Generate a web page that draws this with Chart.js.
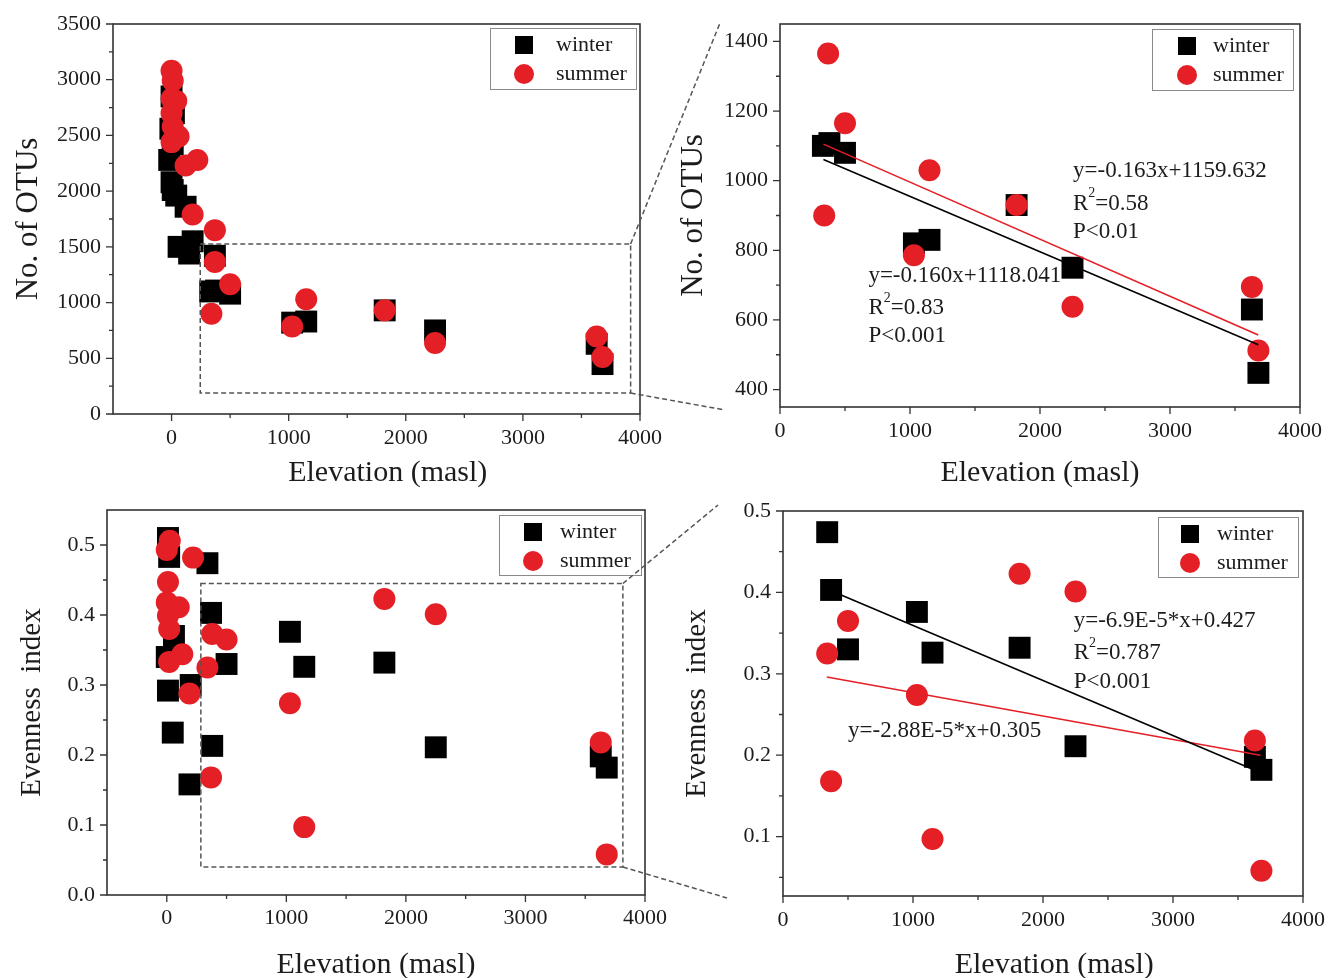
<!DOCTYPE html>
<html>
<head>
<meta charset="utf-8">
<script src="https://cdn.jsdelivr.net/npm/chart.js@4.4.1/dist/chart.umd.min.js"></script>
<style>
  body { margin: 0; background: #fff; }
  #wrap { position: relative; width: 1328px; height: 978px; overflow: hidden; }
  #wrap canvas { position: absolute; }
</style>
</head>
<body>
<div id="wrap">
  <canvas id="otuAll" width="690" height="490" style="left:0;top:0;width:690px;height:490px"></canvas>
  <canvas id="otuZoom" width="663" height="490" style="left:665px;top:0;width:663px;height:490px"></canvas>
  <canvas id="evenAll" width="690" height="488" style="left:0;top:490px;width:690px;height:488px"></canvas>
  <canvas id="evenZoom" width="663" height="488" style="left:665px;top:490px;width:663px;height:488px"></canvas>
  <canvas id="links" width="1328" height="978" style="left:0;top:0;width:1328px;height:978px;pointer-events:none"></canvas>
</div>
<script>
// tick labels
const elevTicks = [0, 1000, 2000, 3000, 4000];
const otuTicks = [0, 500, 1000, 1500, 2000, 2500, 3000, 3500];
const otuZoomTicks = [400, 600, 800, 1000, 1200, 1400];
const evenTicks = [0, 0.1, 0.2, 0.3, 0.4, 0.5];
const evenZoomTicks = [0.1, 0.2, 0.3, 0.4, 0.5];

// No. of OTUs - lowland sites (full range panel only)
const otuWinterLowX = [0, 20, -10, 10, -20, 0, 10, 40, 120, 60, 180, 150, 370];
const otuWinterLowY = [2850, 2700, 2560, 2420, 2280, 2080, 2010, 1960, 1860, 1500, 1550, 1440, 1420];
const otuSummerLowX = [0, 10, 0, 40, 0, 10, 60, 0, 120, 220, 180, 370];
const otuSummerLowY = [3080, 2990, 2830, 2810, 2700, 2580, 2490, 2440, 2230, 2280, 1790, 1650];
// No. of OTUs - sites shown in both panels
const otuWinterHighX = [330, 380, 500, 1030, 1150, 1820, 2250, 3630, 3680];
const otuWinterHighY = [1100, 1108, 1080, 820, 830, 930, 750, 630, 448];
const otuSummerHighX = [370, 500, 1150, 340, 1820, 1030, 2250, 3630, 3680];
const otuSummerHighY = [1365, 1165, 1030, 900, 930, 786, 638, 695, 512];
// fitted lines (end points)
const otuWinterFitX = [334, 3679];
const otuWinterFitY = [1061, 529];
const otuSummerFitX = [334, 3679];
const otuSummerFitY = [1105, 557];

// Evenness index - lowland sites
const evenWinterLowX = [10, 20, 60, 0, 10, 200, 50, 380, 190];
const evenWinterLowY = [0.51, 0.483, 0.37, 0.34, 0.292, 0.30, 0.232, 0.213, 0.158];
const evenSummerLowX = [25, 0, 220, 10, 0, 100, 10, 20, 380, 130, 20, 190];
const evenSummerLowY = [0.506, 0.493, 0.482, 0.447, 0.418, 0.411, 0.399, 0.38, 0.373, 0.344, 0.333, 0.288];
// Evenness index - sites shown in both panels
const evenWinterHighX = [340, 370, 500, 1030, 1150, 1820, 2250, 3630, 3680];
const evenWinterHighY = [0.474, 0.403, 0.330, 0.376, 0.326, 0.332, 0.211, 0.198, 0.182];
const evenSummerHighX = [340, 500, 370, 1030, 1150, 1820, 2250, 3630, 3680];
const evenSummerHighY = [0.325, 0.365, 0.168, 0.274, 0.097, 0.423, 0.401, 0.218, 0.058];
const evenWinterFitX = [370, 3680];
const evenWinterFitY = [0.402, 0.178];
const evenSummerFitX = [337, 3673];
const evenSummerFitY = [0.296, 0.200];

const RED = "#e41f26";
const INK = "#1c1c1c";
const FONT = '"Liberation Serif", "Times New Roman", serif';

Chart.defaults.font.family = FONT;
Chart.defaults.color = INK;

const pts = (xs, ys) => xs.map((x, i) => ({ x, y: ys[i] }));

// major ticks plus a minor tick half way between them
function withMinor(major, min, max) {
  const step = major[1] - major[0];
  const out = [];
  major.forEach((v) => {
    out.push(v);
    const m = v + step / 2;
    if (m > min && m < max) out.push(m);
  });
  const first = major[0] - step / 2;
  if (first > min) out.push(first);
  return out.filter((v) => v >= min && v <= max);
}

const isMajor = (v, major) => major.some((m) => Math.abs(m - v) < 1e-9);

// frame around the plot + outward ticks
const frame = {
  id: "frame",
  afterDatasetsDraw(chart) {
    const { ctx, chartArea: a } = chart;
    const { x, y } = chart.scales;
    ctx.save();
    ctx.strokeStyle = "#333";
    ctx.lineWidth = 1.6;
    ctx.strokeRect(a.left, a.top, a.width, a.height);
    ctx.lineWidth = 1.3;
    ctx.beginPath();
    x.ticks.forEach((t) => {
      const p = x.getPixelForValue(t.value);
      if (p < a.left - 0.5 || p > a.right + 0.5) return;
      const len = t.label !== "" ? 7 : 4;
      ctx.moveTo(p, a.bottom);
      ctx.lineTo(p, a.bottom + len);
    });
    y.ticks.forEach((t) => {
      const p = y.getPixelForValue(t.value);
      if (p < a.top - 0.5 || p > a.bottom + 0.5) return;
      const len = t.label !== "" ? 7 : 4;
      ctx.moveTo(a.left, p);
      ctx.lineTo(a.left - len, p);
    });
    ctx.stroke();
    ctx.restore();
  },
};

// legend box inside the plot, top right
const boxLegend = {
  id: "boxLegend",
  afterDraw(chart, args, o) {
    const { ctx, chartArea: a } = chart;
    const bx = a.right - o.right - o.w;
    const by = a.top + o.top;
    ctx.save();
    ctx.fillStyle = "#fff";
    ctx.fillRect(bx, by, o.w, o.h);
    ctx.strokeStyle = "#8a8a8a";
    ctx.lineWidth = 1;
    ctx.strokeRect(bx + 0.5, by + 0.5, o.w, o.h);
    chart.data.datasets
      .filter((d) => !d.showLine)
      .forEach((d, i) => {
        const cx = bx + o.mark;
        const cy = by + 17 + i * 29;
        ctx.fillStyle = d.backgroundColor;
        if (d.pointStyle === "rect") {
          ctx.fillRect(cx - 9, cy - 9, 18, 18);
        } else {
          ctx.beginPath();
          ctx.arc(cx, cy, 10, 0, Math.PI * 2);
          ctx.fill();
        }
        ctx.fillStyle = INK;
        ctx.font = "22px " + FONT;
        ctx.textBaseline = "middle";
        ctx.textAlign = "left";
        ctx.fillText(d.label, bx + o.text, cy);
      });
    ctx.restore();
  },
};

// dashed box marking the zoomed region
const zoomBox = {
  id: "zoomBox",
  afterDatasetsDraw(chart, args, o) {
    if (!o.x1 && o.x1 !== 0) return;
    const { ctx } = chart;
    const { x, y } = chart.scales;
    const l = x.getPixelForValue(o.x1), r = x.getPixelForValue(o.x2);
    const t = y.getPixelForValue(o.y2), b = y.getPixelForValue(o.y1);
    ctx.save();
    ctx.strokeStyle = "#555";
    ctx.lineWidth = 1.5;
    ctx.setLineDash([5, 3]);
    ctx.strokeRect(l, t, r - l, b - t);
    ctx.restore();
  },
};

// regression text, placed in data units, "^2" drawn as superscript
const notes = {
  id: "notes",
  afterDatasetsDraw(chart, args, o) {
    if (!o.items) return;
    const { ctx } = chart;
    const { x, y } = chart.scales;
    ctx.save();
    ctx.fillStyle = INK;
    ctx.textBaseline = "middle";
    ctx.textAlign = "left";
    o.items.forEach((it) => {
      let px = x.getPixelForValue(it.x);
      const py = y.getPixelForValue(it.y);
      it.text.split("^2").forEach((part, i) => {
        if (i > 0) {
          ctx.font = "14px " + FONT;
          ctx.fillText("2", px, py - 10);
          px += ctx.measureText("2").width;
        }
        ctx.font = "23px " + FONT;
        ctx.fillText(part, px, py);
        px += ctx.measureText(part).width;
      });
    });
    ctx.restore();
  },
};

function markerSets(wx, wy, sx, sy) {
  return [
    { label: "winter", data: pts(wx, wy), pointStyle: "rect", pointRadius: 15.5, backgroundColor: "#000", borderWidth: 0, order: 2 },
    { label: "summer", data: pts(sx, sy), pointStyle: "circle", pointRadius: 11, backgroundColor: RED, borderWidth: 0, order: 1 },
  ];
}

function fitSet(xs, ys, color) {
  return { label: "fit", data: pts(xs, ys), showLine: true, pointRadius: 0, borderColor: color, borderWidth: 1.6, order: 0 };
}

function axis(opts) {
  const major = opts.major;
  return {
    type: "linear",
    min: opts.min,
    max: opts.max,
    afterBuildTicks: (s) => {
      s.ticks = withMinor(major, opts.min, opts.max).map((v) => ({ value: v }));
    },
    afterFit: (s) => {
      if (opts.width) s.width = opts.width;
      if (opts.height) s.height = opts.height;
      // keep label overflow from shrinking the plot area
      s.paddingLeft = s.paddingRight = s.paddingTop = s.paddingBottom = 0;
    },
    grid: { display: false, drawTicks: false },
    border: { display: false },
    ticks: {
      autoSkip: false,
      maxRotation: 0,
      padding: opts.pad,
      font: { size: 22 },
      color: INK,
      callback: (v) => (isMajor(v, major) ? (opts.fmt ? opts.fmt(v) : String(v)) : ""),
    },
    title: {
      display: true,
      text: opts.title,
      font: { size: opts.titleSize },
      color: INK,
      padding: opts.titlePad,
    },
  };
}

function makeChart(id, panel) {
  return new Chart(document.getElementById(id).getContext("2d"), {
    type: "scatter",
    data: { datasets: panel.datasets },
    options: {
      responsive: false,
      animation: false,
      events: [],
      layout: { padding: panel.padding },
      scales: { x: panel.x, y: panel.y },
      plugins: {
        legend: { display: false },
        tooltip: { enabled: false },
        boxLegend: panel.legend,
        zoomBox: panel.box || {},
        notes: panel.notes || {},
      },
    },
    plugins: [frame, zoomBox, notes, boxLegend],
  });
}

const otuBox = { x1: 245, x2: 3920, y1: 188, y2: 1526 };
const evenBox = { x1: 285, x2: 3815, y1: 0.04, y2: 0.445 };

const chartOtuAll = makeChart("otuAll", {
  datasets: markerSets(
    otuWinterLowX.concat(otuWinterHighX), otuWinterLowY.concat(otuWinterHighY),
    otuSummerLowX.concat(otuSummerHighX), otuSummerLowY.concat(otuSummerHighY)
  ),
  padding: { left: 0, top: 24, right: 50, bottom: 0 },
  x: axis({ min: -500, max: 4000, major: elevTicks, pad: 11, height: 76, title: "   Elevation (masl)", titleSize: 30, titlePad: { top: 0, bottom: -1 } }),
  y: axis({ min: 0, max: 3500, major: otuTicks, pad: 12, width: 113, title: "No. of OTUs", titleSize: 31, titlePad: { top: 10, bottom: 0 } }),
  legend: { right: 4, top: 4, w: 146, h: 61, mark: 34, text: 66 },
  box: otuBox,
});

const chartOtuZoom = makeChart("otuZoom", {
  datasets: markerSets(otuWinterHighX, otuWinterHighY, otuSummerHighX, otuSummerHighY).concat([
    fitSet(otuWinterFitX, otuWinterFitY, "#000"),
    fitSet(otuSummerFitX, otuSummerFitY, RED),
  ]),
  padding: { left: 0, top: 24, right: 28, bottom: 0 },
  x: axis({ min: 0, max: 4000, major: elevTicks, pad: 11, height: 83, title: "Elevation (masl)", titleSize: 30, titlePad: { top: 0, bottom: -1 } }),
  y: axis({ min: 350, max: 1450, major: otuZoomTicks, pad: 12, width: 115, title: "No. of OTUs", titleSize: 31, titlePad: { top: 10, bottom: 0 } }),
  legend: { right: 7, top: 5, w: 141, h: 61, mark: 35, text: 61 },
  notes: {
    items: [
      { x: 2254, y: 1029, text: "y=-0.163x+1159.632" },
      { x: 2254, y: 934, text: "R^2=0.58" },
      { x: 2254, y: 854, text: "P<0.01" },
      { x: 680, y: 726, text: "y=-0.160x+1118.041" },
      { x: 680, y: 634, text: "R^2=0.83" },
      { x: 680, y: 554, text: "P<0.001" },
    ],
  },
});

const chartEvenAll = makeChart("evenAll", {
  datasets: markerSets(
    evenWinterLowX.concat(evenWinterHighX), evenWinterLowY.concat(evenWinterHighY),
    evenSummerLowX.concat(evenSummerHighX), evenSummerLowY.concat(evenSummerHighY)
  ),
  padding: { left: 0, top: 20, right: 45, bottom: 0 },
  x: axis({ min: -500, max: 4000, major: elevTicks, pad: 10, height: 83, title: "Elevation (masl)", titleSize: 30, titlePad: { top: 0, bottom: -5 } }),
  y: axis({ min: 0, max: 0.55, major: evenTicks, pad: 12, width: 107, title: "Evenness  index", titleSize: 29, titlePad: { top: 15, bottom: 0 }, fmt: (v) => v.toFixed(1) }),
  legend: { right: 4, top: 5, w: 142, h: 60, mark: 34, text: 61 },
  box: evenBox,
});

const chartEvenZoom = makeChart("evenZoom", {
  datasets: markerSets(evenWinterHighX, evenWinterHighY, evenSummerHighX, evenSummerHighY).concat([
    fitSet(evenWinterFitX, evenWinterFitY, "#000"),
    fitSet(evenSummerFitX, evenSummerFitY, RED),
  ]),
  padding: { left: 0, top: 21, right: 25, bottom: 0 },
  x: axis({ min: 0, max: 4000, major: elevTicks, pad: 11, height: 82, title: "   Elevation (masl)", titleSize: 30, titlePad: { top: 0, bottom: -5 } }),
  y: axis({ min: 0.027, max: 0.5, major: evenZoomTicks, pad: 12, width: 118, title: "Evenness  index", titleSize: 29, titlePad: { top: 15, bottom: 0 }, fmt: (v) => v.toFixed(1) }),
  legend: { right: 5, top: 6, w: 140, h: 60, mark: 32, text: 59 },
  notes: {
    items: [
      { x: 2236, y: 0.3646, text: "y=-6.9E-5*x+0.427" },
      { x: 2236, y: 0.3257, text: "R^2=0.787" },
      { x: 2236, y: 0.2896, text: "P<0.001" },
      { x: 500, y: 0.2292, text: "y=-2.88E-5*x+0.305" },
    ],
  },
});

// dashed connectors from the zoom boxes to the detail panels
function pageXY(chart, px, py) {
  const c = chart.canvas;
  return [c.offsetLeft + px, c.offsetTop + py];
}

function connect(ctx, full, zoom, box, topOff, botOff) {
  const xs = full.scales.x, ys = full.scales.y;
  const a = zoom.chartArea;
  const c1 = pageXY(full, xs.getPixelForValue(box.x2), ys.getPixelForValue(box.y2));
  const c2 = pageXY(full, xs.getPixelForValue(box.x2), ys.getPixelForValue(box.y1));
  const e1 = pageXY(zoom, a.left + topOff[0], a.top + topOff[1]);
  const e2 = pageXY(zoom, a.left + botOff[0], a.bottom + botOff[1]);
  ctx.beginPath();
  ctx.moveTo(c1[0], c1[1]);
  ctx.lineTo(e1[0], e1[1]);
  ctx.moveTo(c2[0], c2[1]);
  ctx.lineTo(e2[0], e2[1]);
  ctx.stroke();
}

const lctx = document.getElementById("links").getContext("2d");
lctx.strokeStyle = "#555";
lctx.lineWidth = 1.5;
lctx.setLineDash([5, 3]);
connect(lctx, chartOtuAll, chartOtuZoom, otuBox, [-60, -1], [-55, 3]);
connect(lctx, chartEvenAll, chartEvenZoom, evenBox, [-65, -6], [-56, 2]);
</script>
</body>
</html>
